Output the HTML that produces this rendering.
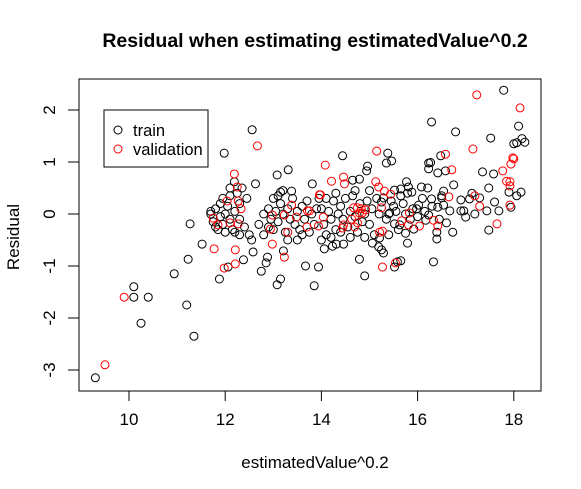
<!DOCTYPE html>
<html><head><meta charset="utf-8"><style>
body{margin:0;background:#fff;}
svg{display:block;font-family:"Liberation Sans",sans-serif;}
</style></head><body>
<svg id="chart" width="581" height="489" viewBox="0 0 581 489" xmlns="http://www.w3.org/2000/svg">
<rect width="581" height="489" fill="#fff"/>
<text x="315" y="47" text-anchor="middle" font-size="19.5" font-weight="bold">Residual when estimating estimatedValue^0.2</text>
<text x="315" y="468" text-anchor="middle" font-size="17">estimatedValue^0.2</text>
<text transform="translate(19,237) rotate(-90)" text-anchor="middle" font-size="17">Residual</text>
<rect x="79" y="79" width="462" height="312" fill="none" stroke="#000" stroke-width="1"/>
<g id="xaxis"></g>
<g id="yaxis"></g>
<g id="pts"></g>
<g>
<rect x="104" y="110" width="104" height="57" fill="#fff" stroke="#000"/>
<circle cx="118" cy="130" r="4" fill="none" stroke="#000"/>
<text x="133" y="136" font-size="16.5">train</text>
<circle cx="118" cy="149" r="4" fill="none" stroke="#f00"/>
<text x="133" y="155" font-size="16.5">validation</text>
</g>
</svg>
<script>
const xTicks=[10,12,14,16,18];
const yTicks=[-3,-2,-1,0,1,2];
const trainPts=[[9.3,-3.15],[10.1,-1.4],[10.1,-1.6],[10.4,-1.6],[10.25,-2.1],[10.94,-1.15],[11.2,-1.75],[11.35,-2.35],[11.23,-0.87],[11.27,-0.19],[11.52,-0.58],[11.7,0.05],[11.98,1.17],[12.56,1.62],[11.88,-1.25],[12.06,-1.02],[12.19,0.62],[12.63,0.58],[13.08,0.75],[13.31,0.85],[13.15,0.42],[13.38,0.44],[13.81,0.58],[12.38,-0.88],[12.75,-1.1],[13.08,-1.36],[13.15,-1.25],[12.85,-0.94],[12.88,-0.83],[12.58,-0.73],[13.21,-0.71],[13.67,-1.0],[13.85,-1.38],
[17.79,2.38],[16.29,1.77],[16.79,1.58],[18.1,1.69],[17.52,1.46],[18.0,1.35],[18.06,1.37],[18.17,1.45],[18.23,1.38],[15.38,1.17],[15.35,0.98],[15.46,1.02],[14.44,1.12],[16.48,1.12],[16.23,0.98],[16.27,0.99],[16.23,0.87],[16.42,0.79],[16.58,0.83],[17.35,0.81],[17.58,0.77],[17.9,0.42],[18.15,0.42],[18.06,0.35],[17.94,0.13],[17.48,0.5],[17.6,0.23],[17.69,0.06],[17.44,0.06],[17.48,-0.31],[17.29,0.31],[17.13,0.4],[17.19,0.0],[17.0,-0.06],[16.96,0.06],[16.9,0.06],[17.08,0.29],[16.9,0.27],[16.75,0.56],[16.67,0.06],[16.6,-0.17],[16.73,-0.35],[16.54,0.17],[16.54,0.44],[16.5,0.31],[16.42,0.13],[16.29,0.29],[16.23,-0.02],[16.4,-0.35],[16.4,-0.48],[16.33,-0.92],[16.08,0.52],[16.21,0.5],[16.17,-0.12],[16.02,0.17],[15.98,0.1],[15.85,-0.1],[15.92,-0.29],[15.79,-0.56],[15.75,-0.37],[15.63,-0.21],[15.52,-0.19],[15.77,0.62],[15.81,0.52],[15.88,0.42],[15.79,0.4],[15.65,0.48],[15.52,0.46],[15.5,0.15],[15.4,0],[15.42,0.02],[15.29,0.31],[15.25,0.23],[15.21,-0.46],[15.19,-0.63],[15.25,-0.69],[15.29,-0.75],[15.52,-1.02],[15.58,-0.92],[15.65,-0.9],[15.06,-0.56],[14.79,-0.87],[14.9,-1.19],[13.94,-1.02],[14.06,-0.67],[14.46,-0.58],[14.31,-0.58],[14.23,-0.62],[14.96,0.92],[14.94,0.83],[14.65,0.65],[14.79,0.67],
[11.7,0.0],[11.75,-0.15],[11.8,0.1],[11.85,-0.3],[11.9,-0.05],[11.9,0.2],[11.95,-0.2],[12.0,0.0],[12.0,-0.35],[12.05,0.15],[12.1,-0.1],[12.1,0.35],[12.15,-0.3],[12.2,0.05],[12.25,0.4],[12.3,-0.1],[12.3,0.2],[12.35,0.5],[12.4,-0.25],[12.45,0.3],[12.5,-0.4],[12.55,-0.5],[11.8,-0.25],[12.2,-0.35],[11.95,0.3],[12.3,-0.4],[12.1,0.5],
[12.7,-0.2],[12.8,0.0],[12.8,-0.4],[12.9,0.1],[12.95,-0.1],[13.0,0.3],[13.0,-0.3],[13.05,0.05],[13.1,-0.15],[13.15,0.2],[13.2,0.0],[13.25,-0.35],[13.3,0.1],[13.35,-0.1],[13.4,0.3],[13.45,-0.2],[13.5,0.05],[13.55,-0.3],[13.6,0.15],[13.65,-0.1],[13.7,0.25],[13.75,-0.35],[13.8,0.0],[13.85,-0.2],[13.9,0.1],[13.95,0.3],[13.5,-0.5],[13.3,-0.5],[13.1,0.35],[12.9,-0.25],[13.6,-0.4],[13.2,0.45],
[14.0,0.1],[14.05,-0.2],[14.1,-0.4],[14.15,0.05],[14.2,-0.1],[14.25,0.25],[14.3,-0.3],[14.35,0.0],[14.4,0.15],[14.45,-0.1],[14.5,0.3],[14.55,-0.25],[14.6,0.05],[14.65,0.35],[14.7,-0.05],[14.75,-0.35],[14.8,0.2],[14.85,-0.15],[14.9,0.0],[14.95,0.25],[15.0,-0.2],[15.05,0.1],[15.1,-0.4],[15.15,0.3],[15.2,0.0],[14.3,0.4],[14.1,0.3],[14.6,-0.45],[14.9,-0.45],[14.4,-0.35],[14.0,-0.5],[14.7,0.45],[15.0,0.45],[14.2,-0.45],
[15.35,-0.1],[15.45,0.25],[15.55,0.05],[15.6,-0.3],[15.7,0.2],[15.75,0.0],[15.9,0.1],[16.0,-0.05],[16.1,0.3],[16.15,0.05],[16.3,0.15],[16.45,-0.1],[16.5,0.35],[15.4,-0.4],[15.65,0.35]];
const validPts=[[9.5,-2.9],[9.9,-1.6],[12.67,1.31],[12.19,0.77],[12.25,0.52],[11.77,-0.67],[11.98,-1.04],[12.21,-0.69],[12.21,-0.96],[13.23,-0.83],[12.04,0.25],[12.27,0.25],[12.33,0.1],[11.75,-0.08],[11.85,-0.21],[12.1,-0.17],[12.27,-0.19],[12.98,-0.02],[12.94,-0.29],[12.98,-0.58],[13.23,-0.02],[13.38,0.17],[13.3,-0.35],[13.48,-0.06],[13.7,-0.25],[13.71,0.06],[13.75,0.06],[13.96,0.37],
[17.23,2.29],[18.13,2.04],[17.15,1.25],[15.15,1.21],[14.08,0.94],[16.58,1.15],[16.71,0.85],[17.77,0.83],[17.94,0.96],[18.0,1.06],[17.98,1.08],[17.85,0.63],[17.92,0.62],[17.92,0.54],[17.92,0.17],[17.65,-0.19],[17.19,0.35],[17.29,0.15],[16.65,0.33],[16.33,-0.12],[16.42,-0.23],[16.04,-0.23],[15.83,0.02],[15.81,-0.21],[15.67,-0.13],[15.44,0.38],[15.31,0.44],[15.13,0.62],[15.19,0.52],[15.25,0.12],[15.27,-0.33],[15.21,-0.35],[15.27,-1.02],[15.54,-0.94],[14.46,0.71],[14.48,0.58],[14.21,0.63],[13.98,0.37],[14.67,0.12],[14.75,0.12],[14.83,0.1],[14.92,0.08],[14.79,0.02],[14.63,-0.1],[14.69,-0.25],[14.46,-0.21],[14.44,-0.27],[14.04,-0.06],[13.94,-0.23],[14.75,-0.17],[14.85,0.02]];
const NS="http://www.w3.org/2000/svg";
function xs(v){return 129+(v-10)*48.1;}
function ys(v){return 214-v*52;}
const xa=document.getElementById('xaxis'),ya=document.getElementById('yaxis'),pg=document.getElementById('pts');
function mk(t,a,p){const e=document.createElementNS(NS,t);for(const k in a)e.setAttribute(k,a[k]);p.appendChild(e);return e;}
xTicks.forEach(t=>{
 const l=mk('line',{x1:xs(t),x2:xs(t),y1:391,y2:401,stroke:'#000'},xa);
 
 
 const tx=mk('text',{x:xs(t),y:425,'text-anchor':'middle','font-size':17},xa);tx.textContent=t;
 
 
});
yTicks.forEach(t=>{
 const l=mk('line',{x1:68,x2:79,y1:ys(t),y2:ys(t),stroke:'#000'},ya);
 
 
 const tx=mk('text',{transform:`translate(55,${ys(t)}) rotate(-90)`,'text-anchor':'middle','font-size':17},ya);tx.textContent=t;
 
 
});
trainPts.forEach(p=>{
 const c=mk('circle',{cx:xs(p[0]),cy:ys(p[1]),r:4,fill:'none',stroke:'#000'},pg);
 
 
});
validPts.forEach(p=>{
 const c=mk('circle',{cx:xs(p[0]),cy:ys(p[1]),r:4,fill:'none',stroke:'#f00'},pg);
 
 
});
</script>
</body></html>
